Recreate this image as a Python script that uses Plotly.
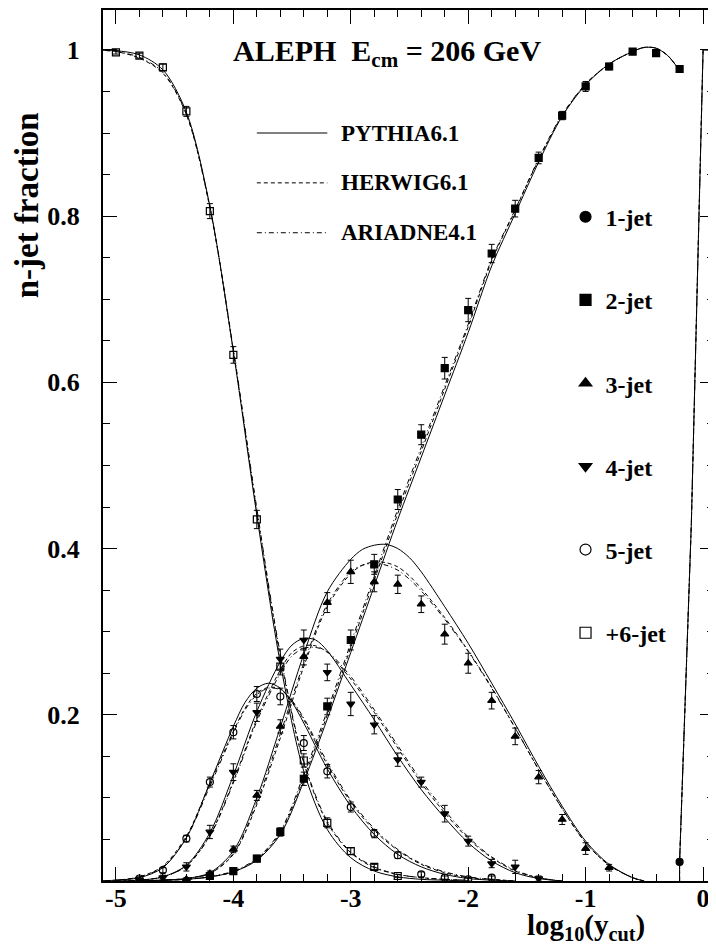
import plotly.graph_objects as go

# ---- measured n-jet fractions (ALEPH, 206 GeV), x = log10(ycut) ----
x_1jet = [-0.2]
y_1jet = [0.023]
e_1jet = [0.002]

x_2jet = [-4.2, -4.0, -3.8, -3.6, -3.4, -3.2, -3.0, -2.8, -2.6, -2.4, -2.2,
          -2.0, -1.8, -1.6, -1.4, -1.2, -1.0, -0.8, -0.6, -0.4, -0.2]
y_2jet = [0.006, 0.012, 0.027, 0.059, 0.123, 0.210, 0.290, 0.381, 0.459, 0.537, 0.617,
          0.687, 0.755, 0.809, 0.870, 0.921, 0.956, 0.980, 0.998, 0.996, 0.977]
e_2jet = [0.003, 0.003, 0.004, 0.005, 0.008, 0.010, 0.012, 0.012, 0.012, 0.012, 0.013,
          0.014, 0.011, 0.010, 0.007, 0.005, 0.006, 0.004, 0.003, 0.003, 0.003]

x_3jet = [-4.4, -4.2, -4.0, -3.8, -3.6, -3.4, -3.2, -3.0, -2.8, -2.6, -2.4, -2.2,
          -2.0, -1.8, -1.6, -1.4, -1.2, -1.0, -0.8]
y_3jet = [0.002, 0.009, 0.038, 0.103, 0.186, 0.270, 0.335, 0.372, 0.360, 0.357, 0.333, 0.297,
          0.262, 0.217, 0.174, 0.125, 0.074, 0.039, 0.016]
e_3jet = [0.002, 0.003, 0.004, 0.006, 0.008, 0.010, 0.012, 0.014, 0.012, 0.011, 0.010, 0.012,
          0.012, 0.010, 0.010, 0.008, 0.006, 0.007, 0.004]

x_4jet = [-4.8, -4.6, -4.4, -4.2, -4.0, -3.8, -3.6, -3.4, -3.2, -3.0, -2.8, -2.6,
          -2.4, -2.2, -2.0, -1.8, -1.6, -1.4]
y_4jet = [0.001, 0.004, 0.017, 0.059, 0.131, 0.203, 0.267, 0.290, 0.251, 0.213, 0.188, 0.146,
          0.119, 0.081, 0.048, 0.021, 0.017, 0.003]
e_4jet = [0.002, 0.003, 0.005, 0.008, 0.010, 0.011, 0.012, 0.012, 0.010, 0.014, 0.011, 0.008,
          0.006, 0.010, 0.006, 0.005, 0.008, 0.003]

x_5jet = [-4.8, -4.6, -4.4, -4.2, -4.0, -3.8, -3.6, -3.4, -3.2, -3.0, -2.8, -2.6,
          -2.4, -2.2, -2.0, -1.8]
y_5jet = [0.003, 0.013, 0.051, 0.119, 0.179, 0.225, 0.222, 0.166, 0.132, 0.089, 0.057, 0.031,
          0.008, 0.004, 0.002, 0.004]
e_5jet = [0.002, 0.003, 0.004, 0.006, 0.008, 0.009, 0.010, 0.009, 0.008, 0.006, 0.005, 0.004,
          0.003, 0.002, 0.002, 0.002]

x_6jet = [-5.0, -4.8, -4.6, -4.4, -4.2, -4.0, -3.8, -3.6, -3.4, -3.2, -3.0, -2.8, -2.6]
y_6jet = [0.997, 0.993, 0.979, 0.926, 0.806, 0.633, 0.435, 0.258, 0.145, 0.070, 0.036, 0.017, 0.006]
e_6jet = [0.002, 0.003, 0.004, 0.006, 0.009, 0.010, 0.011, 0.010, 0.008, 0.006, 0.004, 0.003, 0.002]

# ---- Monte Carlo predictions ----
mc_x_1jet = [-0.2, -0.2, -0.1, 0.0, 0.1]
mc_1jet = [0.0, 0.023, 0.43, 1.0, 1.0]

mc_x_2jet = [-4.8, -4.6, -4.4, -4.2, -4.0, -3.8, -3.6, -3.4, -3.2, -3.0, -2.8, -2.6, -2.4,
             -2.2, -2.0, -1.8, -1.6, -1.4, -1.2, -1.0, -0.8, -0.6, -0.5, -0.4, -0.3, -0.2]
pythia_2jet = [0.0, 0.001, 0.002, 0.005, 0.011, 0.025, 0.056, 0.120, 0.195, 0.275, 0.355, 0.435, 0.510,
               0.585, 0.660, 0.740, 0.803, 0.865, 0.920, 0.958, 0.983, 0.998, 1.003, 1.002, 0.993, 0.975]
herwig_2jet = [0.0, 0.001, 0.002, 0.005, 0.011, 0.026, 0.058, 0.124, 0.200, 0.281, 0.362, 0.442, 0.517,
               0.592, 0.667, 0.746, 0.807, 0.868, 0.921, 0.959, 0.983, 0.998, 1.003, 1.002, 0.993, 0.975]
ariadne_2jet = [0.0, 0.001, 0.002, 0.005, 0.012, 0.027, 0.060, 0.128, 0.205, 0.286, 0.367, 0.447, 0.522,
                0.596, 0.670, 0.748, 0.808, 0.869, 0.922, 0.959, 0.983, 0.998, 1.003, 1.002, 0.993, 0.975]

mc_x_3jet = [-4.8, -4.6, -4.4, -4.2, -4.0, -3.8, -3.6, -3.4, -3.2, -3.0, -2.9, -2.8, -2.7,
             -2.6, -2.5, -2.4, -2.2, -2.0, -1.8, -1.6, -1.4, -1.2, -1.0, -0.8, -0.6, -0.5]
pythia_3jet = [0.0, 0.001, 0.003, 0.010, 0.036, 0.100, 0.185, 0.273, 0.348, 0.387, 0.399, 0.404, 0.405,
               0.400, 0.389, 0.372, 0.330, 0.286, 0.238, 0.189, 0.138, 0.090, 0.048, 0.020, 0.004, 0.0]
herwig_3jet = [0.0, 0.001, 0.003, 0.009, 0.032, 0.092, 0.172, 0.258, 0.330, 0.370, 0.380, 0.384, 0.383,
               0.378, 0.367, 0.352, 0.317, 0.277, 0.233, 0.184, 0.134, 0.087, 0.046, 0.019, 0.004, 0.0]
ariadne_3jet = [0.0, 0.001, 0.003, 0.009, 0.033, 0.095, 0.177, 0.262, 0.333, 0.372, 0.380, 0.382, 0.380,
                0.374, 0.363, 0.349, 0.315, 0.276, 0.232, 0.184, 0.134, 0.087, 0.046, 0.019, 0.004, 0.0]

mc_x_4jet = [-5.0, -4.8, -4.6, -4.4, -4.2, -4.0, -3.8, -3.6, -3.5, -3.4, -3.3, -3.2, -3.0,
             -2.8, -2.6, -2.4, -2.2, -2.0, -1.8, -1.6, -1.4, -1.2]
pythia_4jet = [0.0, 0.001, 0.005, 0.019, 0.058, 0.127, 0.204, 0.264, 0.284, 0.292, 0.290, 0.277, 0.236,
               0.194, 0.150, 0.110, 0.076, 0.046, 0.024, 0.010, 0.003, 0.0]
herwig_4jet = [0.0, 0.001, 0.005, 0.018, 0.055, 0.120, 0.195, 0.254, 0.275, 0.283, 0.283, 0.275, 0.243,
               0.203, 0.160, 0.118, 0.082, 0.051, 0.028, 0.012, 0.004, 0.0]
ariadne_4jet = [0.0, 0.001, 0.005, 0.018, 0.054, 0.118, 0.192, 0.250, 0.271, 0.280, 0.281, 0.276, 0.246,
                0.206, 0.163, 0.121, 0.085, 0.053, 0.029, 0.013, 0.004, 0.0]

mc_x_5jet = [-5.2, -5.0, -4.8, -4.6, -4.4, -4.2, -4.0, -3.9, -3.8, -3.7, -3.6, -3.5, -3.4,
             -3.2, -3.0, -2.8, -2.6, -2.4, -2.2, -2.0, -1.8, -1.6]
pythia_5jet = [0.0, 0.001, 0.004, 0.016, 0.052, 0.118, 0.186, 0.215, 0.232, 0.238, 0.232, 0.215, 0.190,
               0.135, 0.090, 0.056, 0.032, 0.017, 0.008, 0.003, 0.001, 0.0]
herwig_5jet = [0.0, 0.001, 0.005, 0.018, 0.054, 0.117, 0.180, 0.208, 0.226, 0.233, 0.231, 0.216, 0.194,
               0.140, 0.095, 0.061, 0.037, 0.020, 0.010, 0.004, 0.002, 0.0]
ariadne_5jet = [0.0, 0.001, 0.005, 0.017, 0.052, 0.114, 0.178, 0.206, 0.224, 0.232, 0.230, 0.217, 0.196,
                0.143, 0.097, 0.063, 0.038, 0.021, 0.011, 0.005, 0.002, 0.0]

mc_x_6jet = [-5.2, -5.0, -4.8, -4.6, -4.4, -4.2, -4.0, -3.8, -3.6, -3.4, -3.2, -3.0, -2.8,
             -2.6, -2.4, -2.2, -2.0]
pythia_6jet = [1.0, 0.999, 0.994, 0.976, 0.925, 0.812, 0.637, 0.440, 0.262, 0.132, 0.062, 0.028, 0.012,
               0.005, 0.002, 0.001, 0.0]
herwig_6jet = [1.0, 0.998, 0.990, 0.972, 0.922, 0.810, 0.638, 0.445, 0.270, 0.142, 0.070, 0.034, 0.016,
               0.008, 0.004, 0.002, 0.001]
ariadne_6jet = [1.0, 0.998, 0.991, 0.973, 0.923, 0.811, 0.640, 0.448, 0.273, 0.144, 0.072, 0.035, 0.017,
                0.008, 0.004, 0.002, 0.001]

labels = ["1-jet", "2-jet", "3-jet", "4-jet", "5-jet", "+6-jet"]
symbols = ["circle", "square", "triangle-up", "triangle-down", "circle-open", "square-open"]
mc_names = ["PYTHIA6.1", "HERWIG6.1", "ARIADNE4.1"]
mc_dash = ["solid", "4px,3px", "5px,3px,1px,3px"]

data_sets = [(x_1jet, y_1jet, e_1jet), (x_2jet, y_2jet, e_2jet), (x_3jet, y_3jet, e_3jet),
             (x_4jet, y_4jet, e_4jet), (x_5jet, y_5jet, e_5jet), (x_6jet, y_6jet, e_6jet)]
mc_sets = [
    (mc_x_1jet, [mc_1jet, mc_1jet, mc_1jet]),
    (mc_x_2jet, [pythia_2jet, herwig_2jet, ariadne_2jet]),
    (mc_x_3jet, [pythia_3jet, herwig_3jet, ariadne_3jet]),
    (mc_x_4jet, [pythia_4jet, herwig_4jet, ariadne_4jet]),
    (mc_x_5jet, [pythia_5jet, herwig_5jet, ariadne_5jet]),
    (mc_x_6jet, [pythia_6jet, herwig_6jet, ariadne_6jet]),
]

FONT = "Liberation Serif"
fig = go.Figure()

# MC curves, HERWIG/ARIADNE first so PYTHIA sits on top
for i, (mx, curves) in enumerate(mc_sets):
    for k in (2, 1, 0):
        fig.add_trace(go.Scatter(
            x=mx, y=curves[k], mode="lines",
            line=dict(color="black", width=1, dash=mc_dash[k],
                      shape="linear" if i == 0 else "spline", smoothing=0.9),
            showlegend=False, hoverinfo="skip"))

# data points with error bars
for i, (dx, dy, de) in enumerate(data_sets):
    fig.add_trace(go.Scatter(
        x=dx, y=dy, mode="markers", name=labels[i],
        marker=dict(symbol=symbols[i], size=7, color="black",
                    line=dict(color="black", width=1.2)),
        error_y=dict(type="data", array=de, visible=True, color="black",
                     thickness=1, width=3),
        showlegend=False))

# legend entries for the jet multiplicities
for i in range(6):
    fig.add_trace(go.Scatter(
        x=[None], y=[None], mode="markers", name=labels[i],
        marker=dict(symbol=symbols[i], size=11, color="black",
                    line=dict(color="black", width=1.2)),
        legendgroup=labels[i], legend="legend2", showlegend=True))

# MC legend drawn as keys + labels
for k, yk in enumerate([0.9, 0.84, 0.78]):
    fig.add_shape(type="line", xref="x", yref="y", x0=-3.8, x1=-3.2, y0=yk, y1=yk,
                  line=dict(color="black", width=1, dash=mc_dash[k]))
    fig.add_annotation(x=-3.1, y=yk, xref="x", yref="y", text=mc_names[k],
                       showarrow=False, xanchor="left", yanchor="middle",
                       font=dict(family=FONT, size=23, color="black", weight="bold"))

fig.add_annotation(x=0.465, y=0.951, xref="paper", yref="paper",
                   text="ALEPH\u00a0\u00a0E<sub>cm</sub> = 206 GeV", showarrow=False,
                   xanchor="center", yanchor="middle",
                   font=dict(family=FONT, size=30, color="black", weight="bold"))
fig.add_annotation(x=-0.124, y=0.776, xref="paper", yref="paper", text="n-jet fraction",
                   textangle=-90, showarrow=False, xanchor="center", yanchor="middle",
                   font=dict(family=FONT, size=33, color="black", weight="bold"))
fig.add_annotation(x=0.791, y=-0.053, xref="paper", yref="paper",
                   text="log<sub>10</sub>(y<sub>cut</sub>)", showarrow=False,
                   xanchor="center", yanchor="middle",
                   font=dict(family=FONT, size=29, color="black", weight="bold"))

axis_common = dict(showline=True, linecolor="black", linewidth=2, mirror="ticks",
                   ticks="inside", ticklen=14, tickwidth=1.3, tickcolor="black",
                   showgrid=False, zeroline=False,
                   tickfont=dict(family=FONT, size=26, color="black", weight="bold"))

# page has an 8px body margin, so the figure is sized/margined to land the frame
# where the reference has it
fig.update_layout(
    width=708, height=936,
    margin=dict(l=95, r=0, t=0, b=63),
    paper_bgcolor="white", plot_bgcolor="white",
    font=dict(family=FONT, color="black"),
    xaxis=dict(range=[-5.11, 0.093], tickvals=[-5, -4, -3, -2, -1, 0],
               ticktext=["-5", "-4", "-3", "-2", "-1", "0"], ticklabelstandoff=-7,
               minor=dict(dtick=0.2, tick0=0, ticks="inside", ticklen=7,
                          tickwidth=1.3, tickcolor="black"),
               **axis_common),
    yaxis=dict(range=[0, 1.048], tickvals=[0.2, 0.4, 0.6, 0.8, 1.0],
               ticktext=["0.2", "0.4", "0.6", "0.8", "1"], ticklabelstandoff=16,
               minor=dict(dtick=0.05, tick0=0, ticks="inside", ticklen=7,
                          tickwidth=1.3, tickcolor="black"),
               **axis_common),
    legend2=dict(x=0.757, y=0.788, xanchor="left", yanchor="top",
                 bgcolor="rgba(0,0,0,0)", borderwidth=0, tracegroupgap=49,
                 traceorder="grouped",
                 font=dict(family=FONT, size=24, color="black", weight="bold")),
    showlegend=True,
)

fig.write_html("out.html")
